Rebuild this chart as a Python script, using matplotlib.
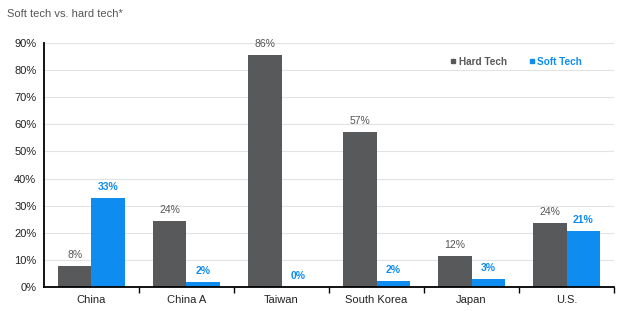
import matplotlib.pyplot as plt
from matplotlib.lines import Line2D
import numpy as np

plt.rcParams['font.family'] = ['Liberation Sans', 'DejaVu Sans']

# data
categories = ['China', 'China A', 'Taiwan', 'South Korea', 'Japan', 'U.S.']
hard_tech = [7.6, 24.3, 85.7, 57.3, 11.6, 23.6]
soft_tech = [32.8, 2.0, 0.0, 2.1, 3.1, 20.6]
yticks = [0, 10, 20, 30, 40, 50, 60, 70, 80, 90]

hard_color = '#58595b'
soft_color = '#0f8cf0'

fig = plt.figure(figsize=(6.24, 3.11), dpi=100)
ax = fig.add_axes([0.0705, 0.0772, 0.9135, 0.7845])

x = np.arange(len(categories))
w = 0.35
ax.bar(x - w / 2, hard_tech, w, color=hard_color, zorder=3)
ax.bar(x + w / 2, soft_tech, w, color=soft_color, zorder=3)

for i in range(len(categories)):
    ax.text(x[i] - w / 2, hard_tech[i] + 2.2, f'{hard_tech[i]:.0f}%', ha='center', va='bottom',
            fontsize=7.5, color='#555555')
    ax.text(x[i] + w / 2, soft_tech[i] + 2.2, f'{soft_tech[i]:.0f}%', ha='center', va='bottom',
            fontsize=7.5, color=soft_color, fontweight='bold')

ax.set_xlim(-0.5, len(categories) - 0.5)
ax.set_ylim(0, 90)
ax.set_yticks(yticks)
ax.set_yticklabels([f'{t}%' for t in yticks], fontsize=8, color='#222222')
ax.tick_params(axis='y', length=0, pad=5.5)
ax.set_xticks(x)
ax.set_xticklabels(categories, fontsize=8, color='#222222')
ax.set_xticks(np.arange(len(categories)) + 0.5, minor=True)
ax.tick_params(axis='x', which='major', length=0, pad=6)
ax.tick_params(axis='x', which='minor', length=4, width=1, direction='out')
ax.grid(axis='y', color='#e3e3e3', linewidth=0.8, zorder=0)

for s in ['top', 'right']:
    ax.spines[s].set_visible(False)
ax.spines['left'].set_linewidth(1.3)
ax.spines['bottom'].set_linewidth(1.3)
ax.spines['left'].set_zorder(4)
ax.spines['bottom'].set_zorder(4)

handles = [Line2D([], [], marker='s', linestyle='', color=hard_color, markersize=3.5),
           Line2D([], [], marker='s', linestyle='', color=soft_color, markersize=3.5)]
ax.legend(handles, ['Hard Tech', 'Soft Tech'], loc='upper left', bbox_to_anchor=(0.697, 0.98),
          ncol=2, frameon=False, handlelength=0.6, handletextpad=0.25, columnspacing=2.2,
          labelcolor=[hard_color, soft_color], prop={'weight': 'bold', 'size': 7.2})

fig.text(0.012, 0.955, 'Soft tech vs. hard tech*', fontsize=8, color='#555555', va='center')

fig.savefig('out.png', dpi=100)
